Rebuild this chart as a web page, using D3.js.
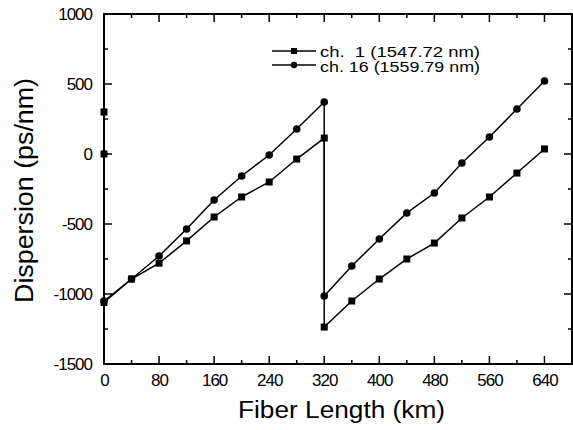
<!DOCTYPE html>
<html><head><meta charset="utf-8">
<script src="https://cdn.jsdelivr.net/npm/d3@7"></script>
<style>body{margin:0;background:#fff}svg{display:block}text{font-family:"Liberation Sans",Arial,sans-serif;fill:#000}</style>
</head><body>
<script>
const ch1X = [0, 0, 0, 40, 80, 120, 160, 200, 240, 280, 320, 320, 360, 400, 440, 480, 520, 560, 600, 640];
const ch1Y = [300, 0, -1060, -893, -780, -621, -450, -307, -200, -36, 114, -1236, -1050, -893, -750, -636, -457, -307, -136, 36];
const ch16X = [0, 40, 80, 120, 160, 200, 240, 280, 320, 320, 360, 400, 440, 480, 520, 560, 600, 640];
const ch16Y = [-1050, -893, -729, -536, -329, -157, -7, 179, 371, -1014, -800, -607, -421, -279, -64, 121, 321, 521];
const seriesNames = ["ch.\u00a0 1 (1547.72 nm)", "ch. 16 (1559.79 nm)"];
const xTicks = [0, 80, 160, 240, 320, 400, 480, 560, 640];
const yTicks = [-1500, -1000, -500, 0, 500, 1000];

const W = 573, H = 430;
const L = 104, R = 572, T = 14, B = 364;
const svg = d3.select("body").append("svg").attr("width", W).attr("height", H);
const x = d3.scaleLinear().domain([0, 680]).range([L, R]);
const y = d3.scaleLinear().domain([-1500, 1000]).range([B, T]);

const xMinor = d3.range(0, 681, 40);
const yMinor = d3.range(-1500, 1001, 250);
const fmt = v => String(v);

// axes
const ax = svg.append("g");
ax.append("g").attr("transform", `translate(0,${B})`)
  .call(d3.axisBottom(x).tickValues(xTicks).tickSize(0).tickPadding(10).tickFormat(fmt))
  .call(g => g.select(".domain").remove());
ax.append("g").attr("transform", `translate(${L},0)`)
  .call(d3.axisLeft(y).tickValues(yTicks).tickSize(0).tickPadding(12).tickFormat(fmt))
  .call(g => g.select(".domain").remove());
ax.selectAll(".tick text").style("font-size", "17px").style("letter-spacing", "-1px")
  .style("font-family", "'Liberation Sans', Arial, sans-serif").attr("fill", "#000");

// ticks
const tk = svg.append("g").attr("stroke", "#000").attr("stroke-width", 1.5);
xMinor.forEach(v => {
  const len = (v % 80 === 0) ? 8 : 4;
  tk.append("line").attr("x1", x(v)).attr("x2", x(v)).attr("y1", B).attr("y2", B - len);
  tk.append("line").attr("x1", x(v)).attr("x2", x(v)).attr("y1", T).attr("y2", T + len);
});
yMinor.forEach(v => {
  const len = (v % 500 === 0) ? 8 : 4;
  tk.append("line").attr("y1", y(v)).attr("y2", y(v)).attr("x1", L).attr("x2", L + len);
  tk.append("line").attr("y1", y(v)).attr("y2", y(v)).attr("x1", R).attr("x2", R - len);
});
svg.append("rect").attr("x", L).attr("y", T).attr("width", R - L).attr("height", B - T)
  .attr("fill", "none").attr("stroke", "#000").attr("stroke-width", 2);

// lines
const line = d3.line().x(d => x(d[0])).y(d => y(d[1]));
const d1 = ch1X.map((v, i) => [v, ch1Y[i]]);
const d16 = ch16X.map((v, i) => [v, ch16Y[i]]);
svg.append("path").datum(d1).attr("d", line).attr("fill", "none").attr("stroke", "#000").attr("stroke-width", 1.5);
svg.append("path").datum(d16).attr("d", line).attr("fill", "none").attr("stroke", "#000").attr("stroke-width", 1.5);

const sq = 7;
svg.append("g").selectAll("rect").data(d1).join("rect")
  .attr("x", d => x(d[0]) - sq / 2).attr("y", d => y(d[1]) - sq / 2)
  .attr("width", sq).attr("height", sq).attr("fill", "#000");
svg.append("g").selectAll("circle").data(d16).join("circle")
  .attr("cx", d => x(d[0])).attr("cy", d => y(d[1])).attr("r", 3.8).attr("fill", "#000");

// legend
const lg = svg.append("g");
[0, 1].forEach(i => {
  const ly = 51 + i * 14;
  lg.append("line").attr("x1", 272).attr("x2", 316).attr("y1", ly).attr("y2", ly)
    .attr("stroke", "#000").attr("stroke-width", 1.5);
  if (i === 0) lg.append("rect").attr("x", 294 - 3).attr("y", ly - 3).attr("width", 6).attr("height", 6);
  else lg.append("circle").attr("cx", 294).attr("cy", ly).attr("r", 3.2);
  lg.append("text").attr("x", 320).attr("y", 56.5 + i * 15.5).style("font-size", "15.5px")
    .attr("textLength", 160).attr("lengthAdjust", "spacingAndGlyphs").text(seriesNames[i]);
});

// axis titles
svg.append("text").attr("x", 341.5).attr("y", 418).attr("text-anchor", "middle")
  .style("font-size", "23px").attr("textLength", 207).attr("lengthAdjust", "spacingAndGlyphs")
  .text("Fiber Length (km)");
svg.append("text").attr("transform", `translate(33,190.5) rotate(-90)`).attr("text-anchor", "middle")
  .style("font-size", "25px").attr("textLength", 225).attr("lengthAdjust", "spacingAndGlyphs")
  .text("Dispersion (ps/nm)");
</script>
</body></html>
